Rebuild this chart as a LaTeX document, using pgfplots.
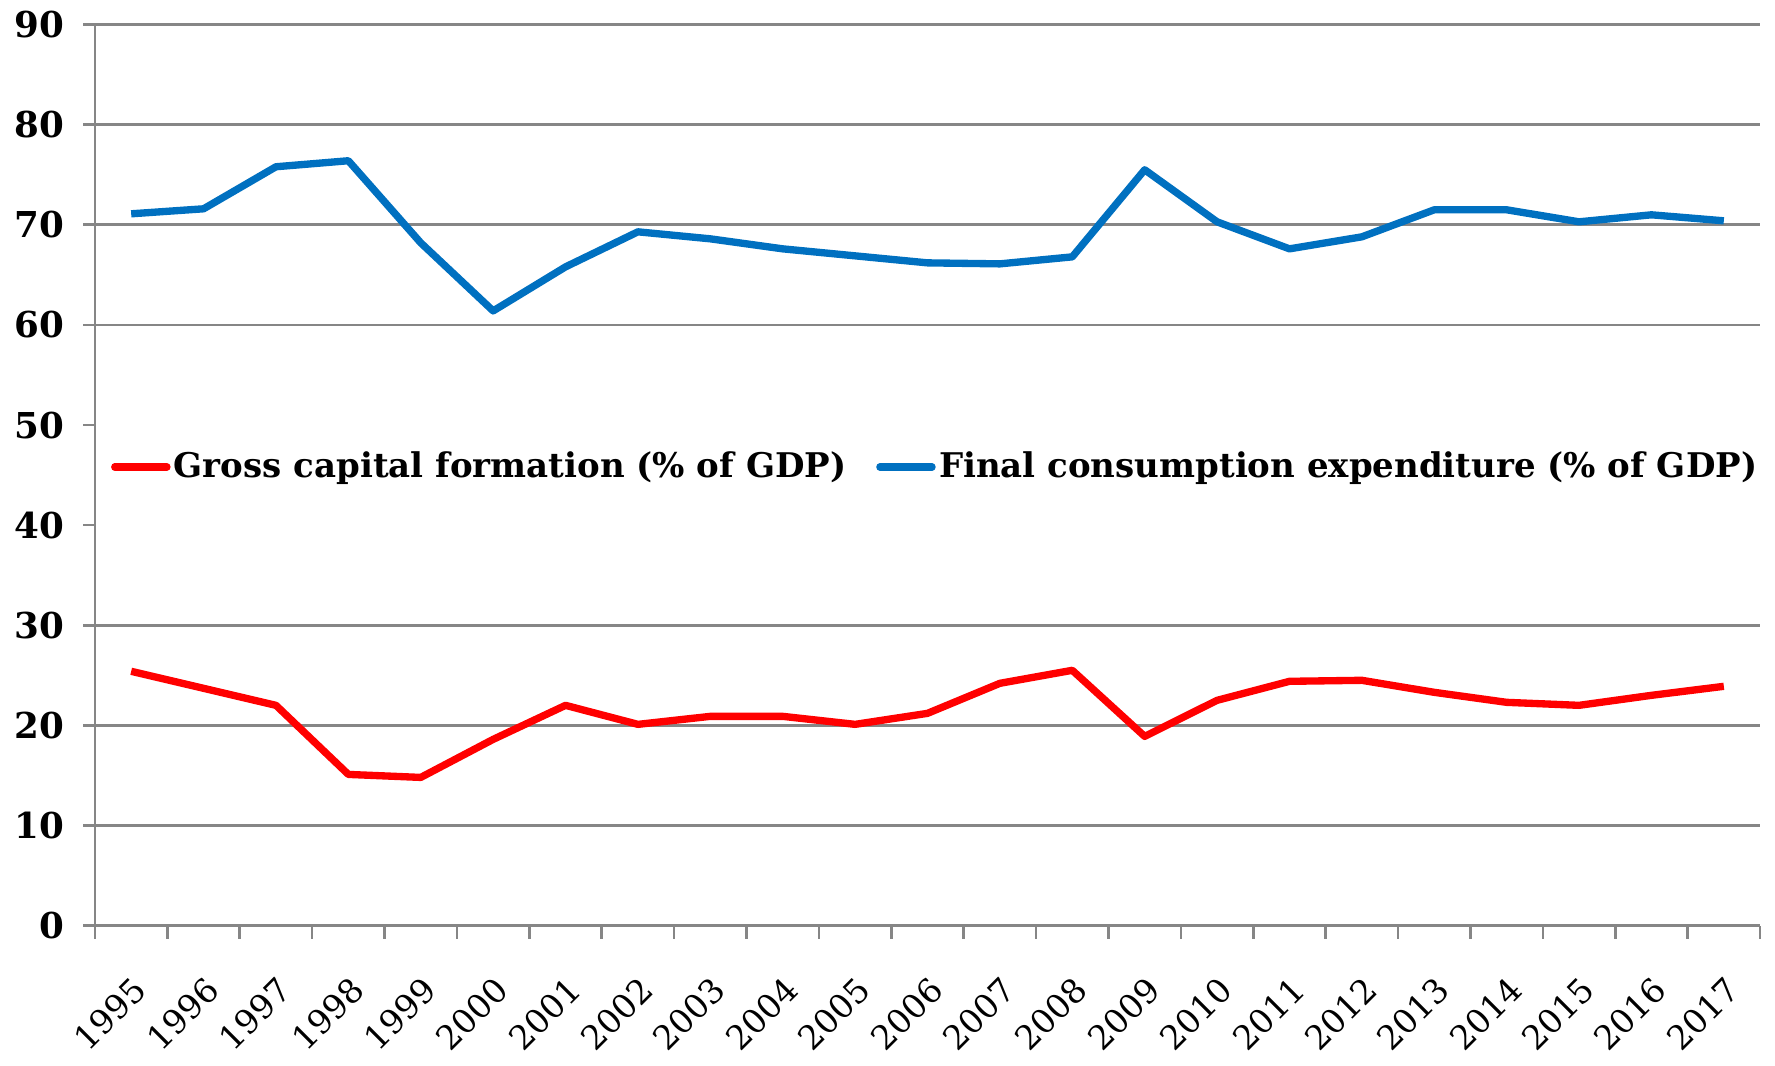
\documentclass[border=0pt]{standalone}
\usepackage{fontspec}
\setmainfont{DejaVu Serif}
\usepackage{pgfplots}
\pgfplotsset{compat=1.18}
\definecolor{fceblue}{RGB}{0,112,192}
\definecolor{gcfred}{RGB}{255,0,0}
\definecolor{gridgray}{RGB}{134,134,134}
\begin{document}
\begin{tikzpicture}
\begin{axis}[
  scale only axis,
  width=499.5pt, height=270.3pt,
  xmin=1994.5, xmax=2017.5,
  ymin=0, ymax=90,
  /pgf/number format/assume math mode=true,
  /pgf/number format/1000 sep={},
  axis x line*=bottom, axis y line*=left,
  axis line style={gridgray, line width=0.8pt},
  xtick={1995,...,2017},
  major x tick style={draw=none},
  minor xtick={1994.5,1995.5,...,2017.5},
  minor x tick style={gridgray, line width=0.8pt},
  minor tick length=4pt,
  major tick length=3.6pt,
  tick align=outside,
  ytick={0,10,20,30,60,70,80,90},
  extra y ticks={40,50},
  extra y tick style={grid=none},
  ymajorgrids,
  major grid style={gridgray, line width=0.8pt},
  ytick style={gridgray, line width=0.8pt},
  yticklabel style={font=\bfseries\fontsize{10.7}{12}\selectfont, black, xshift=-2pt},
  xticklabel style={font=\fontsize{10}{12}\selectfont, black, xshift=0pt, yshift=-11pt, rotate=45, anchor=north east, inner sep=0pt, text height=0.75em, text depth=0pt},
  legend columns=2,
  legend style={at={(rel axis cs:0.505,0.509)}, anchor=center, draw=none, fill=white,
    font=\bfseries\fontsize{10.2}{12}\selectfont, inner sep=2pt,
    nodes={inner xsep=1pt},
    /tikz/every even column/.append style={column sep=8pt}},
  legend image code/.code={\draw[#1, line cap=round] (0cm,0cm) -- (0.55cm,0cm);},
  every axis plot/.append style={line width=2.2pt, line join=round},
  clip=false,
]
\addplot[gcfred] coordinates {
(1995,25.4) (1996,23.7) (1997,22.0) (1998,15.1) (1999,14.8) (2000,18.6) (2001,22.0) (2002,20.1) (2003,20.9) (2004,20.9) (2005,20.1) (2006,21.2) (2007,24.2) (2008,25.5) (2009,18.9) (2010,22.5) (2011,24.4) (2012,24.5) (2013,23.3) (2014,22.3) (2015,22.0) (2016,23.0) (2017,23.9)
};
\addlegendentry{Gross capital formation (\% of GDP)}
\addplot[fceblue] coordinates {
(1995,71.1) (1996,71.6) (1997,75.8) (1998,76.4) (1999,68.2) (2000,61.4) (2001,65.8) (2002,69.3) (2003,68.6) (2004,67.6) (2005,66.9) (2006,66.2) (2007,66.1) (2008,66.8) (2009,75.5) (2010,70.3) (2011,67.6) (2012,68.8) (2013,71.5) (2014,71.5) (2015,70.3) (2016,71.0) (2017,70.4)
};
\addlegendentry{Final consumption expenditure (\% of GDP)}
\end{axis}
\path (-28.5pt,-42pt) rectangle (504pt,275.7pt);
\end{tikzpicture}
\end{document}
